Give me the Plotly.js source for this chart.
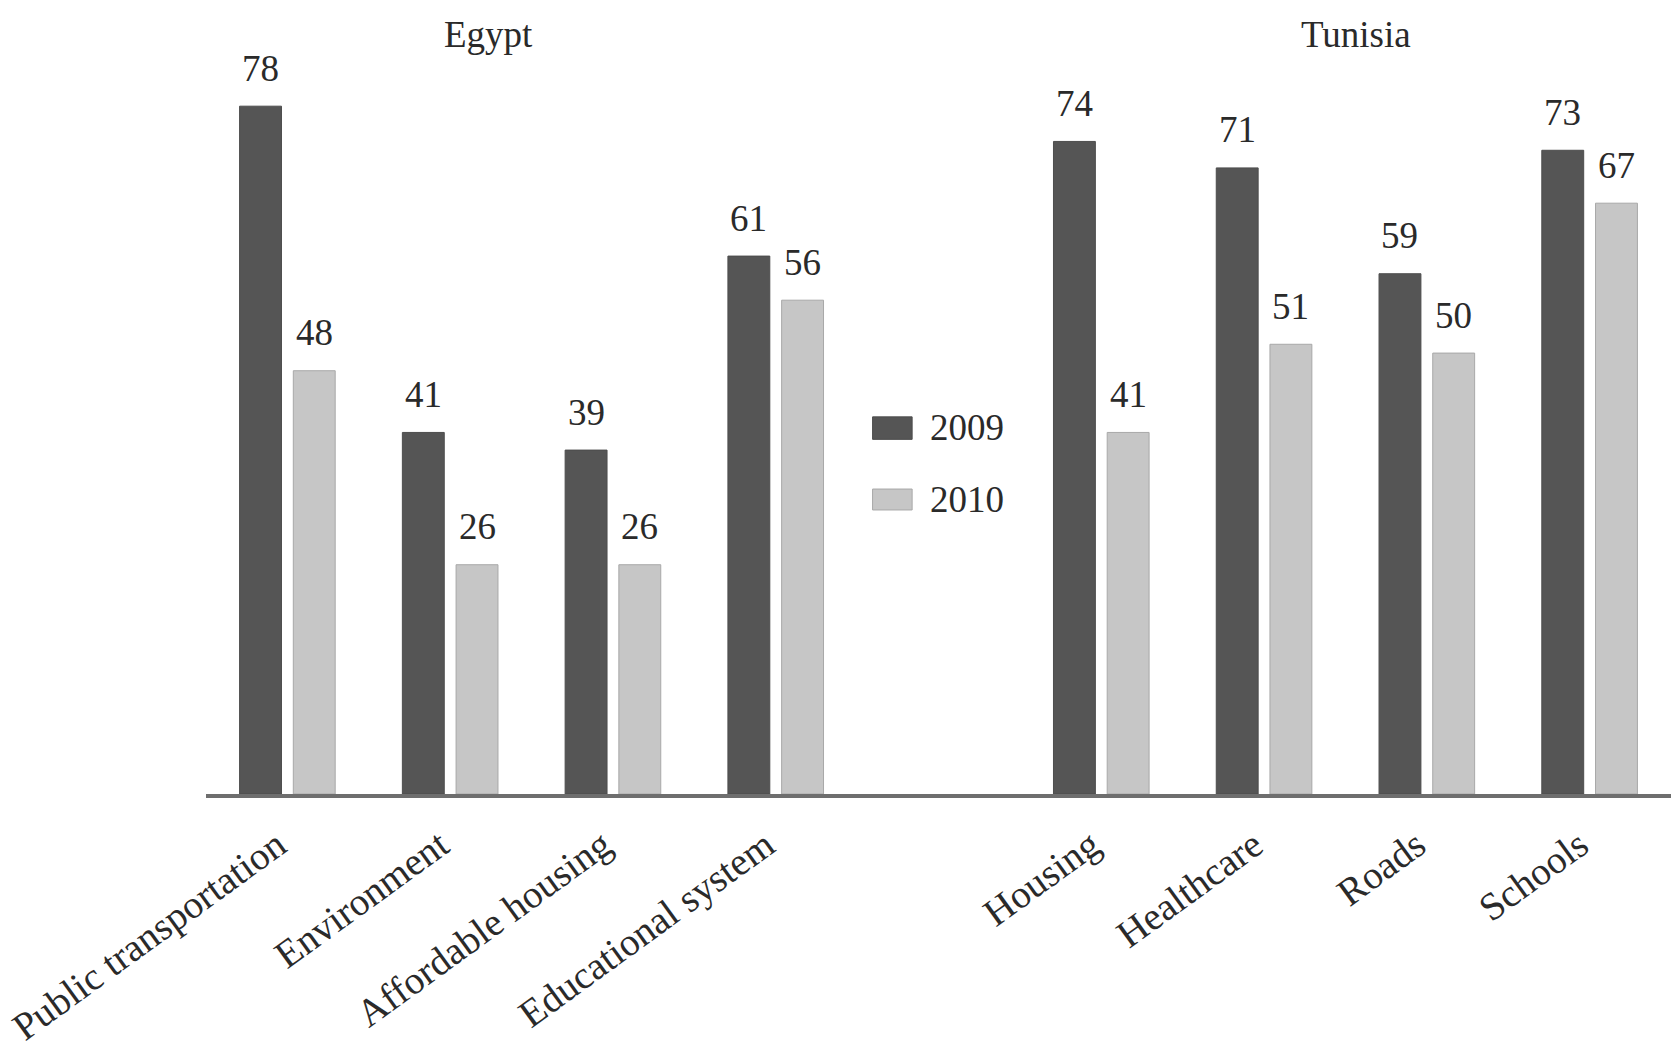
<!DOCTYPE html>
<html>
<head>
<meta charset="utf-8">
<script src="https://cdn.plot.ly/plotly-3.0.1.min.js"></script>
<style>
  html, body { margin: 0; padding: 0; background: #ffffff; }
  #chart { width: 1674px; height: 1056px; }
</style>
</head>
<body>
<div id="chart"></div>
<script>
// Survey items per country, shown side by side with a blank slot between the groups
const egyptItems   = ["Public transportation", "Environment", "Affordable housing", "Educational system"];
const tunisiaItems = ["Housing", "Healthcare", "Roads", "Schools"];

const egypt2009   = [78, 41, 39, 61];
const egypt2010   = [48, 26, 26, 56];
const tunisia2009 = [74, 71, 59, 73];
const tunisia2010 = [41, 51, 50, 67];

const seriesNames = ["2009", "2010"];
const countryNames = ["Egypt", "Tunisia"];

// Category order, with an empty spacer between the two countries
const spacer = " ";
const categoryOrder = egyptItems.concat([spacer], tunisiaItems);

const items = egyptItems.concat(tunisiaItems);
const values2009 = egypt2009.concat(tunisia2009);
const values2010 = egypt2010.concat(tunisia2010);

const darkGrey = "#555555";
const lightGrey = "#c6c6c6";
const serif = "Liberation Serif, Times New Roman, serif";
const textColour = "#2a2a2a";

const barGap = 0.34;
const barGroupGap = 0.22;

const traces = [
  {
    type: "bar", name: seriesNames[0], x: items, y: values2009,
    marker: { color: darkGrey, line: { color: "#4d4d4d", width: 1 } },
    hoverinfo: "x+y", showlegend: false
  },
  {
    type: "bar", name: seriesNames[1], x: items, y: values2010,
    marker: { color: lightGrey, line: { color: "#a8a8a8", width: 1 } },
    hoverinfo: "x+y", showlegend: false
  }
];

// Value labels above each bar, placed at the grouped-bar centre of each series
const slotHalf = (1 - barGap) / 4;
const annotations = [];
[values2009, values2010].forEach(function (vals, s) {
  const offset = s === 0 ? -slotHalf : slotHalf;
  items.forEach(function (item, i) {
    annotations.push({
      x: categoryOrder.indexOf(item) + offset, y: vals[i],
      xref: "x", yref: "y",
      text: String(vals[i]), showarrow: false,
      yanchor: "middle", yshift: 38,
      font: { family: serif, size: 37, color: textColour }
    });
  });
});

// Country headings
[[countryNames[0], 0.193], [countryNames[1], 0.785]].forEach(function (c) {
  annotations.push({
    x: c[1], y: 0.979, xref: "paper", yref: "paper",
    text: c[0], showarrow: false, xanchor: "center", yanchor: "middle",
    font: { family: serif, size: 37, color: textColour }
  });
});

// Legend in the gap between the two groups
const legendRows = [
  { name: seriesNames[0], colour: darkGrey, edge: "#4d4d4d", top: 0.486, bottom: 0.457, mid: 0.472 },
  { name: seriesNames[1], colour: lightGrey, edge: "#a8a8a8", top: 0.393, bottom: 0.366, mid: 0.380 }
];
const shapes = [];
legendRows.forEach(function (r) {
  shapes.push({
    type: "rect", xref: "paper", yref: "paper",
    x0: 0.455, x1: 0.482, y0: r.bottom, y1: r.top,
    fillcolor: r.colour, line: { color: r.edge, width: 1 }
  });
  annotations.push({
    x: 0.493, y: r.mid, xref: "paper", yref: "paper",
    text: r.name, showarrow: false, xanchor: "left", yanchor: "middle",
    font: { family: serif, size: 37, color: textColour }
  });
});

const layout = {
  width: 1674, height: 1056,
  margin: { l: 206, r: 3, t: 18, b: 262, pad: 0 },
  paper_bgcolor: "#ffffff", plot_bgcolor: "#ffffff",
  barmode: "group", bargap: barGap, bargroupgap: barGroupGap,
  showlegend: false,
  xaxis: {
    type: "category", categoryorder: "array", categoryarray: categoryOrder,
    range: [-0.5, categoryOrder.length - 0.5],
    showline: true, linecolor: "#6e6e6e", linewidth: 4,
    ticks: "", showgrid: false, zeroline: false,
    tickangle: -36, ticklabelshift: -10, ticklabelstandoff: 9,
    tickfont: { family: serif, size: 39, color: textColour }
  },
  yaxis: {
    range: [0, 88], visible: false, showgrid: false, zeroline: false
  },
  annotations: annotations,
  shapes: shapes
};

Plotly.newPlot("chart", traces, layout, { staticPlot: true, displayModeBar: false });
</script>
</body>
</html>
